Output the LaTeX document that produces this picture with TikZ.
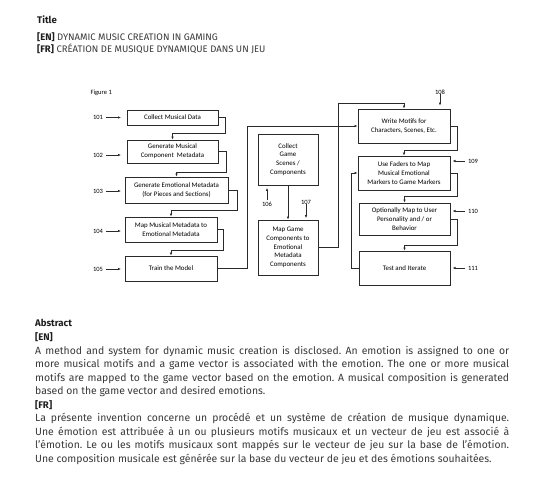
\documentclass[tikz,border=0pt]{standalone}
\usepackage{fontspec}
\setmainfont{Fira Sans}
\newfontfamily\figfont{Carlito}
\usetikzlibrary{arrows.meta,calc}
\definecolor{txt}{HTML}{3A3A3A}
\definecolor{hdr}{HTML}{1E1E1E}
\definecolor{ln}{HTML}{2A2A2A}
\tikzset{
  box/.style={draw=ln,line width=0.7pt,align=center,inner sep=0pt,font=\figfont\fontsize{6.9}{8.8}\selectfont,text=black},
  lab/.style={font=\figfont\fontsize{6.5}{7}\selectfont,inner sep=0.5pt,text=black},
  conn/.style={draw=ln,line width=0.7pt},
  arr/.style={conn,-{Latex[length=3pt,width=2.4pt]}},
  ttl/.style={anchor=base west,inner sep=0pt,font=\fontsize{9.5}{11}\selectfont,text=txt},
  para/.style={anchor=base west,inner sep=0pt,font=\frenchspacing\fontsize{10.4}{12}\selectfont,text=txt},
  head/.style={anchor=base west,inner sep=0pt,font=\bfseries\fontsize{9.6}{11}\selectfont,text=hdr},
}
\begin{document}
\begin{tikzpicture}[x=1pt,y=-1pt]
\useasboundingbox[fill=white] (0,0) rectangle (550,500);
% title
\node[head] (title) at (37,24) {Title};
\node[ttl] (ten) at (37,40.5) {\textbf{\color{hdr}[EN]} DYNAMIC MUSIC CREATION IN GAMING};
\node[ttl] (tfr) at (37,52.5) {\textbf{\color{hdr}[FR]} CRÉATION DE MUSIQUE DYNAMIQUE DANS UN JEU};
% figure
\node[lab,anchor=west] (fig) at (90,93) {Figure 1};
\node[box,minimum width=91pt,minimum height=15pt] (B1) at (172.5,117.5) {Collect Musical Data};
\node[box,minimum width=91pt,minimum height=23pt] (B2) at (172.5,151.5) {Generate Musical\\Component\ \ Metadata};
\node[box,minimum width=103pt,minimum height=26pt] (B3) at (176.5,190) {Generate Emotional Metadata\\(for Pieces and Sections)};
\node[box,minimum width=92pt,minimum height=25pt] (B4) at (171,229.5) {Map Musical Metadata to\\Emotional Metadata};
\node[box,minimum width=92pt,minimum height=25pt] (B5) at (171,268.5) {Train the Model};
\node[box,minimum width=60pt,minimum height=51pt] (C1) at (288,159.5) {Collect\\Game\\Scenes /\\Components};
\node[box,minimum width=60pt,minimum height=55pt] (C2) at (288,247.5) {Map Game\\Components to\\Emotional\\Metadata\\Components};
\node[box,minimum width=92pt,minimum height=34pt] (R1) at (404,126) {Write Motifs for\\Characters, Scenes, Etc.};
\node[box,minimum width=92pt,minimum height=34pt] (R2) at (404,173) {Use Faders to Map\\Musical Emotional\\Markers to Game Markers};
\node[box,minimum width=91pt,minimum height=32pt] (R3) at (404.5,219) {Optionally Map to User\\Personality and / or\\Behavior};
\node[box,minimum width=91pt,minimum height=34pt] (R4) at (404.5,268) {Test and Iterate};
% reference labels
\foreach \n/\y in {101/117.5,102/155,103/191,104/231,105/269}{
  \node[lab] (L\n) at (98,\y) {\n};
  \coordinate (E\n) at (121,\y);
  \draw[arr] ($(L\n.east)+(2.5,0)$) -- (E\n);
}
\node[lab] (L106) at (267,204) {106};
\draw[arr] ($(L106.north)+(0,-1)$) -- ($(C1.south -| L106)+(0,2.5)$);
\node[lab] (L107) at (306,202) {107};
\draw[arr] ($(L107.south)+(0,-1)$) -- ($(C2.north -| L107)+(0,-1.5)$);
\node[lab] (L108) at (440,92) {108};
\draw[arr] ($(L108.south)+(0,-1)$) -- ($(R1.north -| L108)+(0,-3)$);
\foreach \n/\y in {109/161,110/211,111/268}{
  \node[lab] (L\n) at (473,\y) {\n};
  \coordinate (E\n) at (452.5,\y);
  \draw[arr] ($(L\n.west)+(-2,0)$) -- (E\n);
}
% connectors
\draw[arr] (B1.east) -- ++(7,0) -- ++(0,15.5) -| (B2.north);
\draw[arr] (B2.east) -- ++(8,0) -- ++(0,20.5) -| (B3.north);
\draw[arr] (B3.east) -- ++(9,0) -- ++(0,20) -| (B4.north);
\draw[arr] (B4.east) -- ++(6,0) -- ++(0,20.5) -| (B5.north);
\draw[arr] (B5.east) -- ++(30,0) |- (R1.west);
\draw[arr] (C1.south) -- (C2.north);
\draw[arr] (C2.east) -- ++(20,0) -- ++(0,-144.5) -| (R1.north);
\draw[arr] (R1.east) -- ++(7,0) -- ++(0,24) -| (R2.north);
\draw[arr] (R2.east) -- ++(7,0) -- ++(0,23) -| (R3.north);
\draw[arr] (R3.east) -- ++(7,0) -- ++(0,26) -| (R4.north);
\draw[arr] (R4.west) -- ++(-7,0) |- (R2.west);
% abstract
\node[head] (abs) at (35,327) {Abstract};
\node[head] (en) at (35,341) {[EN]};
\node[para] (e1) at (35,354.5) {\makebox[474pt][s]{A method and system for dynamic music creation is disclosed. An emotion is assigned to one or}};
\node[para] (e2) at (35,368) {\makebox[474pt][s]{more musical motifs and a game vector is associated with the emotion. The one or more musical}};
\node[para] (e3) at (35,381.5) {\makebox[474pt][s]{motifs are mapped to the game vector based on the emotion. A musical composition is generated}};
\node[para] (e4) at (35,395) {based on the game vector and desired emotions.};
\node[head] (fr) at (35,408.5) {[FR]};
\node[para] (f1) at (35,422) {\makebox[474pt][s]{La présente invention concerne un procédé et un système de création de musique dynamique.}};
\node[para] (f2) at (35,435.5) {\makebox[474pt][s]{Une émotion est attribuée à un ou plusieurs motifs musicaux et un vecteur de jeu est associé à}};
\node[para] (f3) at (35,449) {\makebox[474pt][s]{l'émotion. Le ou les motifs musicaux sont mappés sur le vecteur de jeu sur la base de l'émotion.}};
\node[para] (f4) at (35,462.5) {Une composition musicale est générée sur la base du vecteur de jeu et des émotions souhaitées.};
\end{tikzpicture}
\end{document}
